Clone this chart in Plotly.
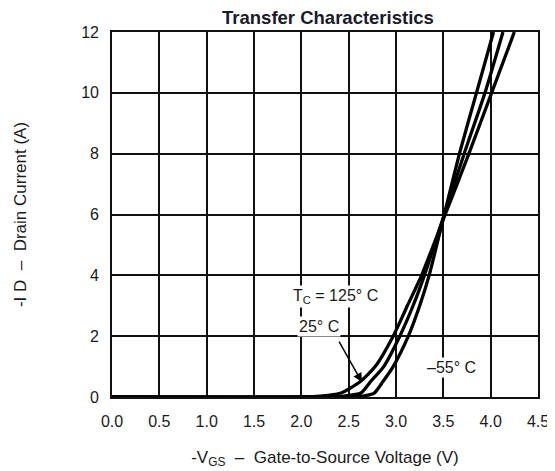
import plotly.graph_objects as go

# Curve data: gate voltage (V) and drain current (A)
v_m55 = [0.0, 2.5, 2.65, 2.77, 2.86, 2.97, 3.13, 3.25, 3.35, 3.51, 3.67, 3.85, 4.03]
i_m55 = [0.0, 0.0, 0.03, 0.13, 0.5, 1.0, 2.0, 3.0, 4.0, 6.0, 8.0, 10.0, 12.0]

v_25 = [0.0, 2.25, 2.45, 2.63, 2.73, 2.87, 3.04, 3.18, 3.30, 3.51, 3.72, 3.94, 4.13]
i_25 = [0.0, 0.0, 0.03, 0.13, 0.5, 1.0, 2.0, 3.0, 4.0, 6.0, 8.0, 10.0, 12.0]

v_125 = [0.0, 2.0, 2.2, 2.42, 2.62, 2.78, 2.97, 3.12, 3.27, 3.52, 3.77, 4.01, 4.25]
i_125 = [0.0, 0.0, 0.03, 0.13, 0.5, 1.0, 2.0, 3.0, 4.0, 6.0, 8.0, 10.0, 12.0]

x_ticks = [0.0, 0.5, 1.0, 1.5, 2.0, 2.5, 3.0, 3.5, 4.0, 4.5]
y_ticks = [0, 2, 4, 6, 8, 10, 12]

FONT = "Liberation Sans, Arial, sans-serif"
TXT = "#1a1a1a"

fig = go.Figure()
for v, i, name in [(v_125, i_125, "125"), (v_25, i_25, "25"), (v_m55, i_m55, "-55")]:
    fig.add_trace(go.Scatter(x=v, y=i, mode="lines", name=name,
                             line=dict(color="black", width=3.3, shape="spline", smoothing=0.6),
                             showlegend=False))

fig.update_layout(
    width=547, height=463,
    margin=dict(l=104, r=17, t=24, b=74),
    paper_bgcolor="white", plot_bgcolor="white",
    font=dict(family=FONT, size=16, color=TXT),
    title=dict(text="<b>Transfer Characteristics</b>", x=0.507, xanchor="center",
               xref="paper", y=0.979, yanchor="middle", yref="container",
               font=dict(size=18.5, color="#1a1a2a")),
)
fig.update_xaxes(range=[0, 4.5], tickvals=x_ticks, ticktext=[f"{t:.1f}" for t in x_ticks],
                 automargin=False,
                 showgrid=True, gridcolor="#111", gridwidth=1.6,
                 showline=True, linecolor="#111", linewidth=1.6, mirror=True,
                 zeroline=False, ticks="", ticklabelstandoff=9,
                 tickfont=dict(size=16),
                 title=dict(text="-V<sub>GS</sub>  \u2013  Gate-to-Source Voltage (V)",
                            font=dict(size=17), standoff=22))
fig.update_yaxes(range=[0, 12], tickvals=y_ticks,
                 automargin=False,
                 showgrid=True, gridcolor="#111", gridwidth=1.6,
                 showline=True, linecolor="#111", linewidth=1.6, mirror=True,
                 zeroline=False, ticks="", ticklabelstandoff=8,
                 tickfont=dict(size=16),
                 title=dict(text="-I D  \u2013  Drain Current (A)", font=dict(size=17), standoff=50))

ann = dict(showarrow=False, font=dict(family=FONT, size=16, color=TXT), bgcolor="white")
fig.add_annotation(x=2.36, y=3.3, text="T<sub>C</sub> = 125\u00b0 C", **ann)
fig.add_annotation(x=2.19, y=2.33, text="25\u00b0 C", **ann)
fig.add_annotation(x=3.59, y=0.97, text="\u201355\u00b0 C", **ann)
fig.add_annotation(x=2.64, y=0.49, ax=2.39, ay=1.87, axref="x", ayref="y",
                   text="", showarrow=True, arrowhead=2, arrowsize=1.2,
                   arrowwidth=1.5, arrowcolor="black")

fig.write_html("out.html")
